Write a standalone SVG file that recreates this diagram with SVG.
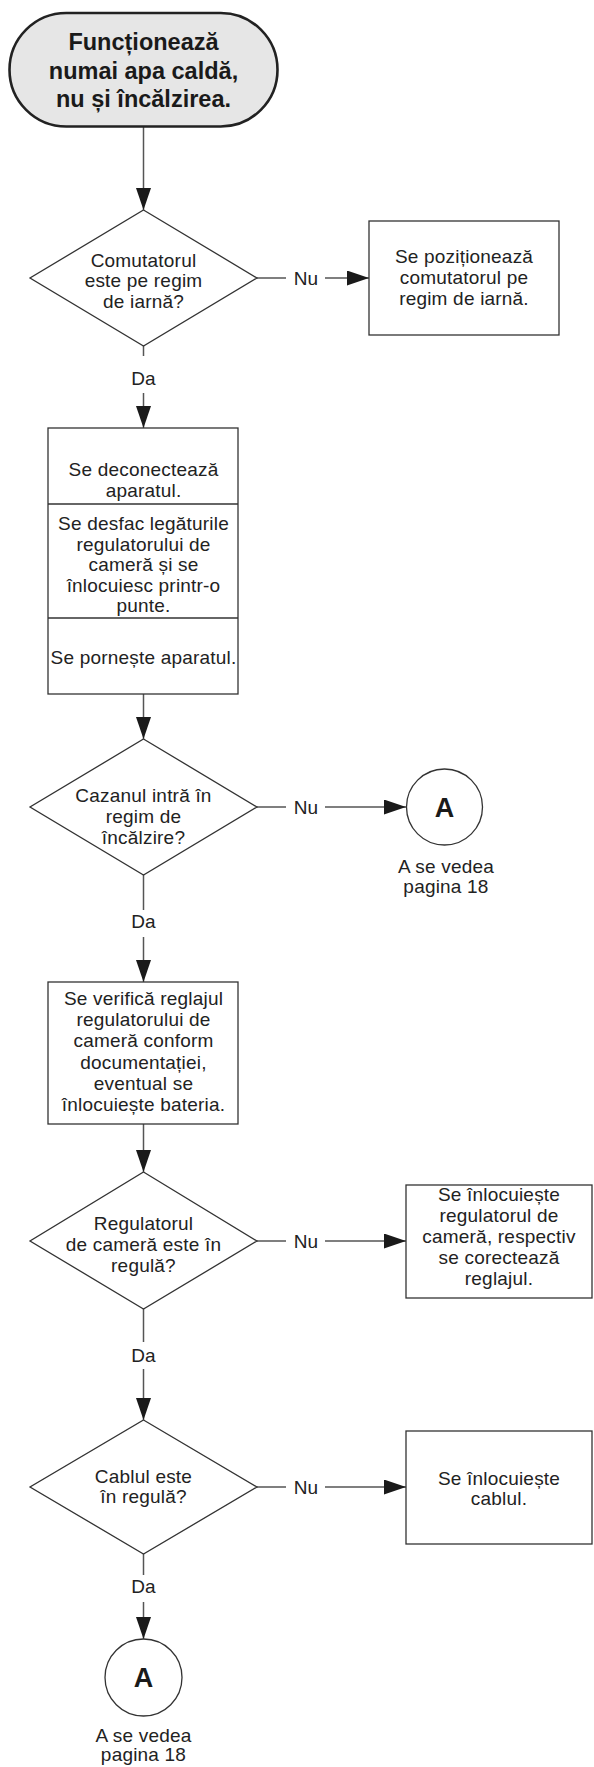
<svg xmlns="http://www.w3.org/2000/svg" width="594" height="1767" viewBox="0 0 594 1767">
  <style>
    .shape { fill: #ffffff; stroke: #333333; stroke-width: 1.3; }
    .term { fill: #e6e6e6; stroke: #222222; stroke-width: 2.6; }
    .txt { font-family: "Liberation Sans", Arial, sans-serif; font-size: 19px; letter-spacing: 0.2px; fill: #222222; text-anchor: middle; }
    .bold { font-family: "Liberation Sans", Arial, sans-serif; font-weight: bold; fill: #1a1a1a; text-anchor: middle; }
    .edge { fill: none; stroke: #555555; stroke-width: 1.5; }
    .arrow { fill: none; stroke: #555555; stroke-width: 1.5; marker-end: url(#head); }
  </style>
  <defs>
    <marker id="head" markerUnits="userSpaceOnUse" markerWidth="23" markerHeight="16" refX="22" refY="7.5" orient="auto">
      <path d="M0,0 L22,7.5 L0,15 z" fill="#1a1a1a"/>
    </marker>
  </defs>

  <rect width="594" height="1767" fill="#ffffff"/>

  <!-- connectors -->
  <g id="connectors">
    <line class="arrow" x1="143.5" y1="127" x2="143.5" y2="210"/>

    <line class="edge" x1="257" y1="278" x2="286" y2="278"/>
    <line class="arrow" x1="325" y1="278" x2="369" y2="278"/>
    <text class="txt" x="306" y="285">Nu</text>

    <line class="edge" x1="143.5" y1="346" x2="143.5" y2="356"/>
    <text class="txt" x="143.5" y="385">Da</text>
    <line class="arrow" x1="143.5" y1="393" x2="143.5" y2="428"/>

    <line class="arrow" x1="143.5" y1="694" x2="143.5" y2="739"/>

    <line class="edge" x1="257" y1="807" x2="286" y2="807"/>
    <line class="arrow" x1="325" y1="807" x2="406" y2="807"/>
    <text class="txt" x="306" y="814">Nu</text>

    <line class="edge" x1="143.5" y1="875" x2="143.5" y2="910"/>
    <text class="txt" x="143.5" y="928">Da</text>
    <line class="arrow" x1="143.5" y1="937" x2="143.5" y2="982"/>

    <line class="arrow" x1="143.5" y1="1124" x2="143.5" y2="1172"/>

    <line class="edge" x1="257" y1="1241" x2="286" y2="1241"/>
    <line class="arrow" x1="325" y1="1241" x2="406" y2="1241"/>
    <text class="txt" x="306" y="1248">Nu</text>

    <line class="edge" x1="143.5" y1="1309" x2="143.5" y2="1342"/>
    <text class="txt" x="143.5" y="1362">Da</text>
    <line class="arrow" x1="143.5" y1="1369" x2="143.5" y2="1420"/>

    <line class="edge" x1="257" y1="1487" x2="286" y2="1487"/>
    <line class="arrow" x1="325" y1="1487" x2="406" y2="1487"/>
    <text class="txt" x="306" y="1494">Nu</text>

    <line class="edge" x1="143.5" y1="1554" x2="143.5" y2="1575"/>
    <text class="txt" x="143.5" y="1593">Da</text>
    <line class="arrow" x1="143.5" y1="1602" x2="143.5" y2="1639"/>
  </g>

  <!-- start terminal -->
  <g id="start">
    <rect class="term" x="9.5" y="13" width="268" height="113.5" rx="56.75" ry="56.75"/>
    <text class="bold" font-size="23.5" x="143.5" y="50">Funcționează</text>
    <text class="bold" font-size="23.5" x="143.5" y="78.5">numai apa caldă,</text>
    <text class="bold" font-size="23.5" x="143.5" y="107">nu și încălzirea.</text>
  </g>

  <!-- decision: switch position -->
  <g id="q-switch">
    <polygon class="shape" points="143.5,210 257,278 143.5,346 30,278"/>
    <text class="txt" x="143.5" y="266.5">Comutatorul</text>
    <text class="txt" x="143.5" y="287">este pe regim</text>
    <text class="txt" x="143.5" y="307.5">de iarnă?</text>
  </g>

  <g id="set-switch">
    <rect class="shape" x="369" y="221" width="190" height="114"/>
    <text class="txt" x="464" y="263">Se poziționează</text>
    <text class="txt" x="464" y="284">comutatorul pe</text>
    <text class="txt" x="464" y="305">regim de iarnă.</text>
  </g>

  <!-- three-step action block -->
  <g id="steps">
    <rect class="shape" x="48" y="428" width="190" height="266"/>
    <line class="shape" x1="48" y1="504" x2="238" y2="504"/>
    <line class="shape" x1="48" y1="618" x2="238" y2="618"/>
    <text class="txt" x="143.5" y="476">Se deconectează</text>
    <text class="txt" x="143.5" y="497">aparatul.</text>
    <text class="txt" x="143.5" y="530">Se desfac legăturile</text>
    <text class="txt" x="143.5" y="550.5">regulatorului de</text>
    <text class="txt" x="143.5" y="571">cameră și se</text>
    <text class="txt" x="143.5" y="591.5">înlocuiesc printr-o</text>
    <text class="txt" x="143.5" y="612">punte.</text>
    <text class="txt" x="143.5" y="664">Se pornește aparatul.</text>
  </g>

  <!-- decision: boiler heating -->
  <g id="q-heating">
    <polygon class="shape" points="143.5,739 257,807 143.5,875 30,807"/>
    <text class="txt" x="143.5" y="802">Cazanul intră în</text>
    <text class="txt" x="143.5" y="823">regim de</text>
    <text class="txt" x="143.5" y="844">încălzire?</text>
  </g>

  <g id="ref-a-1">
    <circle class="shape" cx="444.5" cy="807" r="38"/>
    <text class="bold" font-size="27" x="444.5" y="817">A</text>
    <text class="txt" x="446" y="873">A se vedea</text>
    <text class="txt" x="446" y="893">pagina 18</text>
  </g>

  <g id="check-thermostat">
    <rect class="shape" x="48" y="982" width="190" height="142"/>
    <text class="txt" x="143.5" y="1005">Se verifică reglajul</text>
    <text class="txt" x="143.5" y="1026">regulatorului de</text>
    <text class="txt" x="143.5" y="1047">cameră conform</text>
    <text class="txt" x="143.5" y="1068.5">documentației,</text>
    <text class="txt" x="143.5" y="1090">eventual se</text>
    <text class="txt" x="143.5" y="1111">înlocuiește bateria.</text>
  </g>

  <!-- decision: room thermostat -->
  <g id="q-thermostat">
    <polygon class="shape" points="143.5,1172 257,1241 143.5,1309 30,1241"/>
    <text class="txt" x="143.5" y="1230">Regulatorul</text>
    <text class="txt" x="143.5" y="1251">de cameră este în</text>
    <text class="txt" x="143.5" y="1272">regulă?</text>
  </g>

  <g id="replace-thermostat">
    <rect class="shape" x="406" y="1185" width="186" height="113"/>
    <text class="txt" x="499" y="1201">Se înlocuiește</text>
    <text class="txt" x="499" y="1222">regulatorul de</text>
    <text class="txt" x="499" y="1243">cameră, respectiv</text>
    <text class="txt" x="499" y="1264">se corectează</text>
    <text class="txt" x="499" y="1285">reglajul.</text>
  </g>

  <!-- decision: cable -->
  <g id="q-cable">
    <polygon class="shape" points="143.5,1420 257,1487 143.5,1554 30,1487"/>
    <text class="txt" x="143.5" y="1483">Cablul este</text>
    <text class="txt" x="143.5" y="1503">în regulă?</text>
  </g>

  <g id="replace-cable">
    <rect class="shape" x="406" y="1431" width="186" height="113"/>
    <text class="txt" x="499" y="1485">Se înlocuiește</text>
    <text class="txt" x="499" y="1505">cablul.</text>
  </g>

  <g id="ref-a-2">
    <circle class="shape" cx="143.5" cy="1677.5" r="38.5"/>
    <text class="bold" font-size="27" x="143.5" y="1687">A</text>
    <text class="txt" x="143.5" y="1742">A se vedea</text>
    <text class="txt" x="143.5" y="1761">pagina 18</text>
  </g>
</svg>
